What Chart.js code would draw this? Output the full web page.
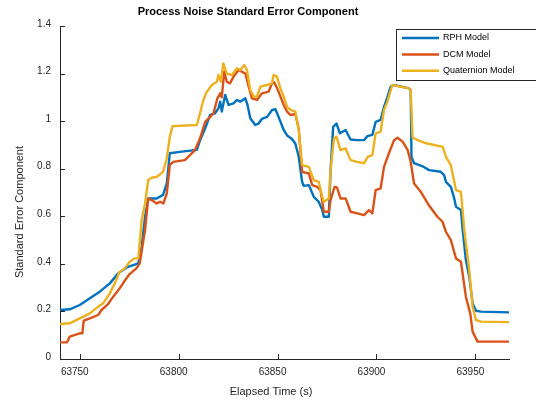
<!DOCTYPE html>
<html>
<head>
<meta charset="utf-8">
<title>Process Noise Standard Error Component</title>
<script src="https://cdn.jsdelivr.net/npm/chart.js@4.4.1/dist/chart.umd.min.js"></script>
<style>
  html, body { margin: 0; padding: 0; background: #fff; }
  #wrap { width: 536px; height: 400px; }
</style>
</head>
<body>
<div id="wrap"><canvas id="noiseChart" width="536" height="400"></canvas></div>
<script>
// Axis ticks
const xTicks = [63750, 63800, 63850, 63900, 63950];
const yTicks = [0, 0.2, 0.4, 0.6, 0.8, 1, 1.2, 1.4];
const yTickLabels = ['0', '0.2', '0.4', '0.6', '0.8', '1', '1.2', '1.4'];

// RPH model
const rphTime = [63740.0, 63744.9, 63750.0, 63755.1, 63760.1, 63765.2, 63769.4, 63773.7, 63779.6, 63781.3,
  63783.0, 63784.6, 63788.9, 63792.1, 63794.0, 63795.5, 63800.6, 63809.2, 63810.8, 63813.4,
  63815.9, 63818.4, 63820.1, 63821.0, 63821.8, 63823.5, 63825.2, 63827.7, 63829.5, 63831.1,
  63833.7, 63834.8, 63836.2, 63838.7, 63840.4, 63842.1, 63844.7, 63847.2, 63848.9, 63850.5,
  63853.1, 63854.8, 63857.3, 63859.0, 63860.7, 63862.4, 63863.2, 63865.8, 63868.3, 63870.8,
  63872.6, 63873.4, 63875.9, 63876.8, 63878.1, 63879.8, 63881.5, 63884.4, 63886.9, 63890.3,
  63893.7, 63895.4, 63897.9, 63899.6, 63902.1, 63903.8, 63905.5, 63907.2, 63908.9, 63916.5,
  63917.3, 63917.7, 63919.0, 63923.3, 63926.6, 63932.5, 63934.2, 63935.1, 63937.6, 63939.3,
  63940.2, 63942.7, 63943.6, 63945.2, 63946.9, 63948.6, 63950.3, 63952.8, 63967.0];
const rphValues = [0.206, 0.209, 0.227, 0.255, 0.283, 0.318, 0.360, 0.385, 0.402, 0.472,
  0.598, 0.675, 0.675, 0.690, 0.738, 0.865, 0.871, 0.879, 0.920, 0.970,
  1.026, 1.033, 1.054, 1.082, 1.040, 1.110, 1.068, 1.075, 1.089, 1.082,
  1.096, 1.068, 1.012, 0.984, 0.990, 1.010, 1.018, 1.047, 1.050, 1.018,
  0.963, 0.940, 0.925, 0.905, 0.850, 0.745, 0.728, 0.731, 0.682, 0.661,
  0.626, 0.598, 0.598, 0.794, 0.976, 0.990, 0.949, 0.963, 0.923, 0.920,
  0.920, 0.937, 0.942, 0.997, 1.005, 1.060, 1.100, 1.145, 1.152, 1.138,
  1.130, 0.850, 0.823, 0.810, 0.794, 0.787, 0.773, 0.745, 0.724, 0.675,
  0.640, 0.626, 0.542, 0.416, 0.346, 0.234, 0.203, 0.199, 0.196];

// DCM model
const dcmTime = [63740.0, 63743.6, 63744.9, 63750.0, 63751.3, 63752.0, 63755.1, 63759.3, 63761.0, 63764.3,
  63766.9, 63770.2, 63772.7, 63775.2, 63778.6, 63780.3, 63783.0, 63784.6, 63786.3, 63788.9,
  63790.6, 63792.3, 63794.0, 63795.5, 63797.2, 63803.1, 63805.7, 63808.2, 63810.8, 63813.4,
  63815.9, 63817.6, 63819.6, 63821.0, 63821.8, 63823.0, 63824.3, 63826.0, 63827.7, 63830.3,
  63831.9, 63833.7, 63835.4, 63837.0, 63839.6, 63842.1, 63845.5, 63847.2, 63848.4, 63850.5,
  63853.1, 63854.8, 63856.5, 63859.0, 63860.7, 63862.4, 63865.8, 63867.5, 63870.0, 63871.7,
  63873.4, 63875.9, 63876.8, 63878.8, 63880.1, 63881.8, 63884.4, 63886.9, 63890.3, 63893.7,
  63896.2, 63897.9, 63899.6, 63902.1, 63903.8, 63906.3, 63908.9, 63910.7, 63913.3, 63915.8,
  63917.3, 63919.0, 63922.4, 63926.6, 63930.8, 63933.4, 63935.1, 63937.6, 63940.2, 63942.7,
  63945.2, 63947.4, 63948.6, 63951.1, 63967.0];
const dcmValues = [0.070, 0.070, 0.094, 0.108, 0.108, 0.161, 0.171, 0.185, 0.206, 0.231,
  0.262, 0.297, 0.329, 0.357, 0.381, 0.402, 0.542, 0.675, 0.668, 0.654,
  0.661, 0.654, 0.696, 0.815, 0.829, 0.836, 0.857, 0.878, 0.928, 0.997,
  1.018, 1.033, 1.096, 1.117, 1.100, 1.208, 1.166, 1.159, 1.187, 1.215,
  1.208, 1.200, 1.145, 1.096, 1.089, 1.117, 1.124, 1.159, 1.163, 1.124,
  1.068, 1.040, 1.026, 1.030, 0.967, 0.787, 0.780, 0.731, 0.724, 0.710,
  0.619, 0.619, 0.668, 0.724, 0.720, 0.675, 0.675, 0.619, 0.612, 0.605,
  0.626, 0.612, 0.710, 0.717, 0.808, 0.865, 0.920, 0.930, 0.913, 0.878,
  0.829, 0.738, 0.703, 0.645, 0.598, 0.577, 0.535, 0.500, 0.423, 0.409,
  0.262, 0.192, 0.115, 0.073, 0.073];

// Quaternion model
const quatTime = [63740.0, 63744.9, 63750.0, 63755.1, 63759.3, 63761.8, 63765.2, 63767.7, 63769.9, 63772.7,
  63775.3, 63777.7, 63779.6, 63781.3, 63783.0, 63784.6, 63786.3, 63789.0, 63792.1, 63794.0,
  63795.5, 63796.9, 63809.2, 63810.8, 63812.5, 63814.2, 63816.8, 63819.3, 63820.1, 63821.3,
  63822.6, 63824.3, 63826.9, 63829.5, 63831.1, 63833.2, 63834.5, 63836.2, 63837.9, 63839.6,
  63841.3, 63844.7, 63847.2, 63848.0, 63849.7, 63851.4, 63853.1, 63854.8, 63856.5, 63859.0,
  63860.7, 63862.4, 63865.8, 63868.3, 63870.8, 63872.6, 63873.4, 63875.9, 63876.8, 63878.5,
  63879.8, 63881.8, 63884.4, 63886.9, 63890.3, 63893.7, 63895.6, 63897.9, 63899.6, 63902.1,
  63903.8, 63905.5, 63908.0, 63916.5, 63917.3, 63918.2, 63919.0, 63920.9, 63925.1, 63933.5,
  63935.1, 63937.6, 63940.2, 63942.7, 63944.4, 63946.9, 63948.6, 63950.3, 63952.8, 63967.0];
const quatValues = [0.147, 0.150, 0.171, 0.192, 0.220, 0.234, 0.276, 0.318, 0.363, 0.381,
  0.409, 0.423, 0.423, 0.584, 0.654, 0.752, 0.762, 0.766, 0.787, 0.844,
  0.934, 0.979, 0.984, 1.033, 1.089, 1.124, 1.152, 1.166, 1.194, 1.166,
  1.243, 1.200, 1.194, 1.222, 1.215, 1.236, 1.215, 1.131, 1.103, 1.103,
  1.145, 1.152, 1.159, 1.194, 1.187, 1.138, 1.103, 1.060, 1.047, 1.040,
  0.963, 0.815, 0.808, 0.752, 0.745, 0.682, 0.661, 0.675, 0.794, 0.928,
  0.934, 0.878, 0.885, 0.836, 0.829, 0.823, 0.850, 0.857, 0.949, 0.956,
  1.047, 1.082, 1.152, 1.138, 1.130, 0.934, 0.928, 0.920, 0.907, 0.892,
  0.850, 0.815, 0.710, 0.703, 0.542, 0.374, 0.220, 0.164, 0.157, 0.155];

const FONT = '"Liberation Sans", Arial, Helvetica, sans-serif';
const AXIS_COLOR = '#262626';

const toPoints = (t, v) => t.map((x, i) => ({ x, y: v[i] }));

// inward tick marks, like MATLAB axes
const innerTicks = {
  id: 'innerTicks',
  afterDraw(chart) {
    const { ctx, chartArea, scales } = chart;
    ctx.save();
    ctx.strokeStyle = AXIS_COLOR;
    ctx.lineWidth = 1;
    ctx.beginPath();
    xTicks.forEach(v => {
      const px = Math.round(scales.x.getPixelForValue(v)) + 0.5;
      ctx.moveTo(px, chartArea.bottom);
      ctx.lineTo(px, chartArea.bottom - 5);
    });
    yTicks.forEach(v => {
      const py = Math.round(scales.y.getPixelForValue(v)) + 0.5;
      ctx.moveTo(chartArea.left, py);
      ctx.lineTo(chartArea.left + 5, py);
    });
    ctx.stroke();
    ctx.restore();
  }
};

// title + axis labels
const labels = {
  id: 'labels',
  afterDraw(chart) {
    const { ctx } = chart;
    ctx.save();
    ctx.fillStyle = '#000';
    ctx.textAlign = 'center';
    ctx.textBaseline = 'middle';
    ctx.font = 'bold 11px ' + FONT;
    ctx.fillText('Process Noise Standard Error Component', 248, 12);
    ctx.fillStyle = AXIS_COLOR;
    ctx.font = '11px ' + FONT;
    ctx.fillText('Elapsed Time (s)', 271, 392);
    ctx.translate(20, 212);
    ctx.rotate(-Math.PI / 2);
    ctx.fillText('Standard Error Component', 0, 0);
    ctx.restore();
  }
};

// boxed legend in the upper right
const boxLegend = {
  id: 'boxLegend',
  afterDraw(chart) {
    const { ctx } = chart;
    const sets = chart.data.datasets;
    ctx.save();
    ctx.fillStyle = '#fff';
    ctx.fillRect(396, 29, 150, 51);
    ctx.strokeStyle = AXIS_COLOR;
    ctx.lineWidth = 1;
    ctx.strokeRect(396.5, 29.5, 150, 51);
    ctx.font = '9px ' + FONT;
    ctx.textAlign = 'left';
    ctx.textBaseline = 'middle';
    sets.forEach((ds, i) => {
      const y = 38 + i * 16.4;
      ctx.strokeStyle = ds.borderColor;
      ctx.lineWidth = 2.5;
      ctx.beginPath();
      ctx.moveTo(402, y);
      ctx.lineTo(439, y);
      ctx.stroke();
      ctx.fillStyle = '#000';
      ctx.fillText(ds.label, 443, y);
    });
    ctx.restore();
  }
};

const lineStyle = { borderWidth: 2.4, pointRadius: 0, tension: 0, fill: false, borderJoinStyle: 'round' };

new Chart(document.getElementById('noiseChart'), {
  type: 'line',
  data: {
    datasets: [
      { label: 'RPH Model', data: toPoints(rphTime, rphValues), borderColor: '#0072BD', order: 3, ...lineStyle },
      { label: 'DCM Model', data: toPoints(dcmTime, dcmValues), borderColor: '#D95319', order: 2, ...lineStyle },
      { label: 'Quaternion Model', data: toPoints(quatTime, quatValues), borderColor: '#EDB120', order: 1, ...lineStyle }
    ]
  },
  options: {
    responsive: false,
    animation: false,
    layout: { padding: { top: 26, right: 27, left: 0, bottom: 0 } },
    plugins: { legend: { display: false }, title: { display: false }, tooltip: { enabled: false } },
    scales: {
      x: {
        type: 'linear',
        min: 63740,
        max: 63967,
        afterBuildTicks: s => { s.ticks = xTicks.map(v => ({ value: v })); },
        afterFit: s => { s.height = 41; },
        grid: { display: false, drawTicks: false },
        border: { display: true, color: AXIS_COLOR, width: 1 },
        ticks: {
          autoSkip: false, maxRotation: 0, padding: 7, labelOffset: -5,
          color: AXIS_COLOR, font: { family: FONT, size: 10 },
          callback: v => String(v)
        }
      },
      y: {
        min: 0,
        max: 1.4,
        afterBuildTicks: s => { s.ticks = yTicks.map(v => ({ value: v })); },
        afterFit: s => { s.width = 60; },
        grid: { display: false, drawTicks: false },
        border: { display: true, color: AXIS_COLOR, width: 1 },
        ticks: {
          autoSkip: false, padding: 9, labelOffset: -2,
          color: AXIS_COLOR, font: { family: FONT, size: 10 },
          callback: (v, i) => yTickLabels[i]
        }
      }
    }
  },
  plugins: [innerTicks, labels, boxLegend]
});
</script>
</body>
</html>
